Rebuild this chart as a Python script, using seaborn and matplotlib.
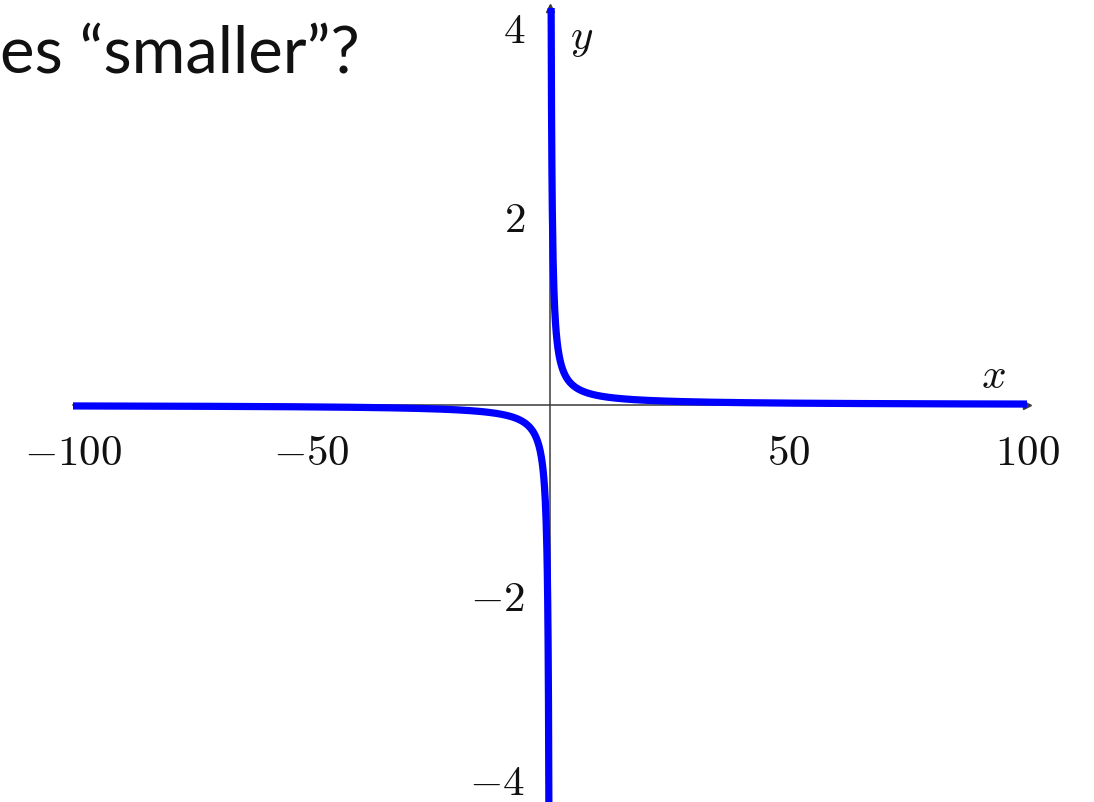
import numpy as np
import pandas as pd
import matplotlib
matplotlib.use("Agg")
import matplotlib.pyplot as plt
import matplotlib.transforms as mtransforms
import seaborn as sns

# Plotted function and its sampled domain (two branches around the pole at x = 0)
def f(x):
    return 1.0 / x

x_neg = np.linspace(-100, -0.235, 1200)
x_pos = np.linspace(0.235, 100, 1200)

x_ticks = [-100, -50, 50, 100]
x_tick_labels = [r"$-100$", r"$-50$", r"$50$", r"$100$"]
y_ticks = [-4, -2, 2, 4]
y_tick_labels = [r"$-4$", r"$-2$", r"$2$", r"$4$"]
heading = "es \u201csmaller\u201d?"

sns.set_theme(style="white")
plt.rcParams["mathtext.fontset"] = "cm"
plt.rcParams["font.family"] = ["Lato", "DejaVu Sans"]

df = pd.concat([
    pd.DataFrame({"x": x_neg, "y": f(x_neg), "branch": "left"}),
    pd.DataFrame({"x": x_pos, "y": f(x_pos), "branch": "right"}),
])

fig = plt.figure(figsize=(10.94, 8.03), dpi=100)
ax = fig.add_axes([73 / 1094, 0.0, 954 / 1094, 794 / 803])

sns.lineplot(data=df, x="x", y="y", units="branch", estimator=None, sort=False,
             color="#0000ff", linewidth=5.2, ax=ax, zorder=5)

ax.set_xlim(-100, 100)
ax.set_ylim(-4.2, 4.2)

# Axes through the origin
for side in ("top", "right"):
    ax.spines[side].set_visible(False)
ax.spines["left"].set_position(("data", 0))
ax.spines["bottom"].set_position(("data", 0))
for side in ("left", "bottom"):
    ax.spines[side].set_color("#3a3a3a")
    ax.spines[side].set_linewidth(1.1)
    ax.spines[side].set_zorder(2)

# Arrow heads at the positive ends
ax.plot(1, 0, marker=">", color="#3a3a3a", markersize=6,
        transform=ax.get_yaxis_transform(), clip_on=False, zorder=3)
ax.plot(0, 1, marker="^", color="#3a3a3a", markersize=6,
        transform=ax.get_xaxis_transform(), clip_on=False, zorder=3)

ax.set_xticks(x_ticks)
ax.set_xticklabels(x_tick_labels)
ax.set_yticks(y_ticks)
ax.set_yticklabels(y_tick_labels)
ax.tick_params(axis="both", direction="inout", length=14, width=0.9,
               color="#a8a8a8", labelsize=31, labelcolor="#111111")
ax.tick_params(axis="x", pad=13)
ax.tick_params(axis="y", pad=11)
ax.set_xlabel("")
ax.set_ylabel("")
ax.grid(False)

# Keep the lowest y label inside the figure edge
lowest = ax.get_yticklabels()[0]
lowest.set_transform(lowest.get_transform()
                     + mtransforms.ScaledTranslation(0, 3 / 72, fig.dpi_scale_trans))

ax.text(93, 0.12, r"$x$", fontsize=31, ha="center", va="bottom", color="#111111")
ax.text(6.6, 3.87, r"$y$", fontsize=31, ha="center", va="center", color="#111111")

fig.text(360 / 1094, 1 - 74 / 803, heading, fontsize=47, ha="right",
         va="baseline", color="#111111")

fig.savefig("out.png", dpi=100)
